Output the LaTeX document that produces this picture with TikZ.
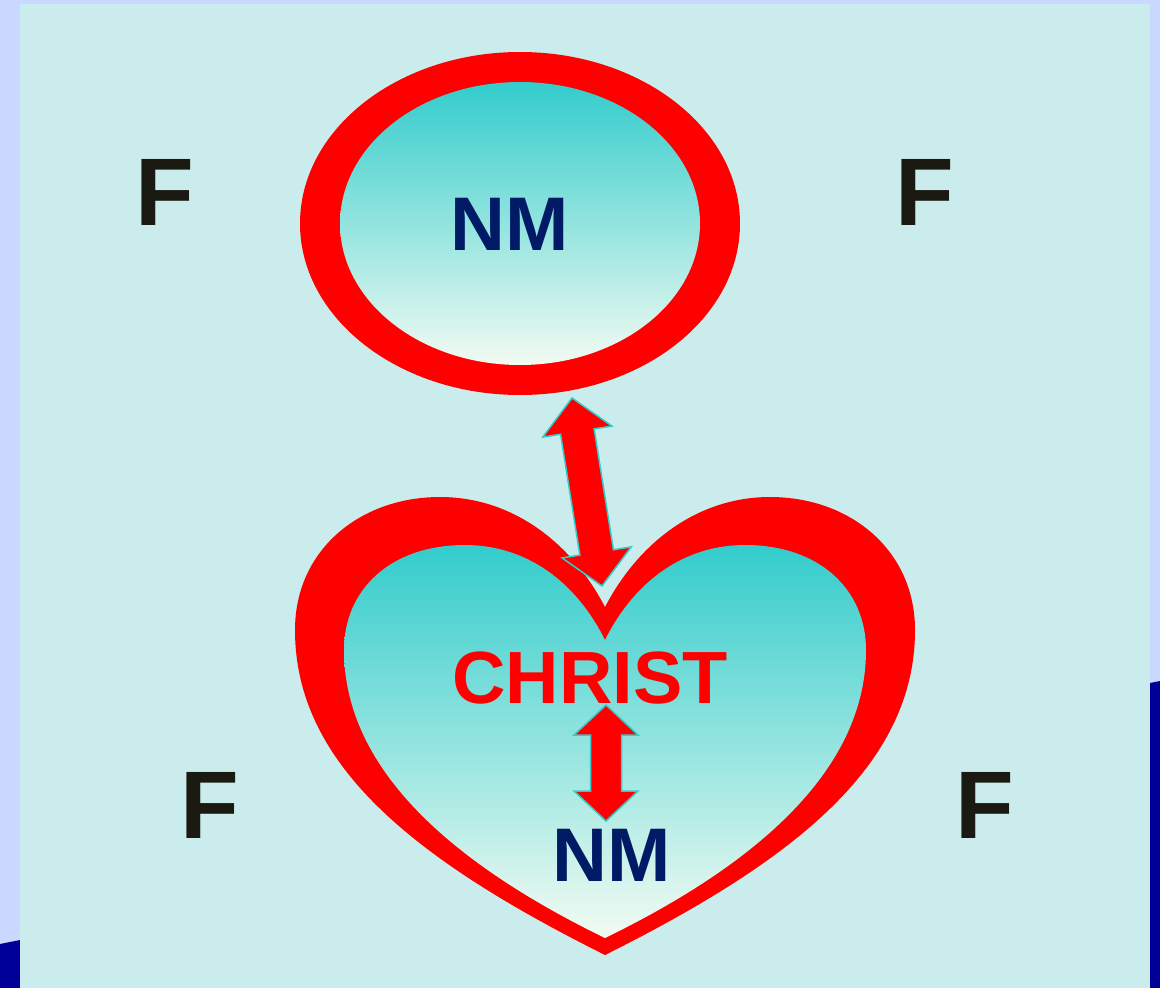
\documentclass[tikz,border=0pt]{standalone}
\usepackage{fontspec}
\setmainfont{Liberation Sans}
\usetikzlibrary{calc}
\definecolor{outerblue}{RGB}{200,216,255}
\definecolor{panelcyan}{RGB}{203,236,236}
\definecolor{deepblue}{RGB}{0,0,153}
\definecolor{tealtop}{RGB}{51,204,204}
\definecolor{tealpale}{RGB}{242,251,242}
\definecolor{navytext}{RGB}{0,26,102}
\definecolor{darkF}{RGB}{26,26,18}
% double block arrow: from, to, head length, head half width, shaft half width
\newcommand{\dblarrow}[5]{%
  \draw[arrowbox] (#1)
    -- ($(#1)!#3!(#2)!#4!90:(#2)$)
    -- ($(#1)!#3!(#2)!#5!90:(#2)$)
    -- ($(#2)!#3!(#1)!#5!-90:(#1)$)
    -- ($(#2)!#3!(#1)!#4!-90:(#1)$)
    -- (#2)
    -- ($(#2)!#3!(#1)!#4!90:(#1)$)
    -- ($(#2)!#3!(#1)!#5!90:(#1)$)
    -- ($(#1)!#3!(#2)!#5!-90:(#2)$)
    -- ($(#1)!#3!(#2)!#4!-90:(#2)$)
    -- cycle;}

\begin{document}
\begin{tikzpicture}[
    x=1pt, y=-1pt,
    ring/.style={fill=red},
    inner/.style={top color=tealtop, bottom color=tealpale},
    arrowbox/.style={fill=red, draw=tealtop, line width=1.5pt, line join=miter},
    letterF/.style={inner sep=0pt, text=darkF, font=\fontsize{96}{96}\selectfont\bfseries},
    nmlabel/.style={inner sep=0pt, text=navytext, font=\fontsize{76}{76}\selectfont\bfseries},
    christlabel/.style={inner sep=0pt, text=red, font=\fontsize{74}{74}\selectfont\bfseries}
]
\useasboundingbox (0,0) rectangle (1160,988);
% Background
\fill[outerblue] (0,0) rectangle (1160,988);
\fill[deepblue] (0,944) -- (20,940) -- (20,988) -- (0,988) -- cycle;
\fill[deepblue] (1150,683) -- (1160,681) -- (1160,988) -- (1150,988) -- cycle;
\fill[panelcyan] (20,4) rectangle (1150,988);
% Ring
\fill[ring] (520,223.5) ellipse [x radius=220, y radius=171.5];
\shade[inner] (520,223.5) ellipse [x radius=180, y radius=141.5];
% Heart
\fill[ring] (605,607) .. controls (640,540) and (700,497) .. (770,497)
  .. controls (850,497) and (915,550) .. (915,630)
  .. controls (915,765) and (795,860) .. (605,955)
  .. controls (415,860) and (295,765) .. (295,630)
  .. controls (295,550) and (360,497) .. (440,497)
  .. controls (510,497) and (570,540) .. cycle;
\shade[inner] (605,640) .. controls (635,580) and (685,545) .. (745,545)
  .. controls (820,545) and (866,590) .. (866,650)
  .. controls (866,765) and (765,860) .. (605,938)
  .. controls (445,860) and (344,765) .. (344,650)
  .. controls (344,590) and (390,545) .. (465,545)
  .. controls (525,545) and (575,580) .. cycle;
% Labels
\node[letterF] (f1) at (165,192) {F};
\node[letterF] (f2) at (925,192) {F};
\node[letterF] (f3) at (210,805) {F};
\node[letterF] (f4) at (985,805) {F};
\node[nmlabel] (nmtop) at (510,224) {NM};
\node[christlabel] (christ) at (590,678) {CHRIST};
\node[nmlabel] (nmbottom) at (612,855) {NM};
% Arrows
\coordinate (bigtop) at (572,398);
\coordinate (bigbottom) at (602,586);
\coordinate (smalltop) at (606,705);
\coordinate (smallbottom) at (606,821);
\dblarrow{bigtop}{bigbottom}{34pt}{35pt}{17pt}
\dblarrow{smalltop}{smallbottom}{30pt}{32pt}{15.5pt}
\end{tikzpicture}
\end{document}
